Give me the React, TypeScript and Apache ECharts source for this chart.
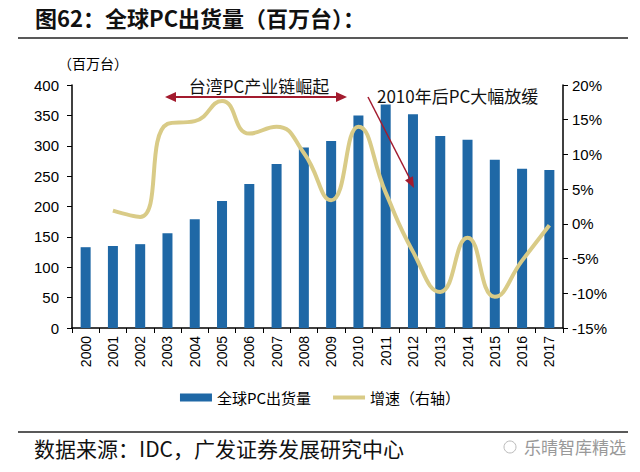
import React, { useEffect, useRef } from "react";
import * as echarts from "echarts";

const years = ["2000","2001","2002","2003","2004","2005","2006","2007","2008","2009","2010","2011","2012","2013","2014","2015","2016","2017"];
const shipments = [133, 135, 138, 156, 179, 209, 237, 270, 297, 308, 350, 368, 352, 316, 310, 277, 262, 260];
const growth: (number | null)[] = [null, 1.9, 1.0, 14.4, 14.8, 17.7, 13.0, 14.0, 10.2, 3.4, 14.0, 4.5, -4.0, -9.8, -2.0, -10.5, -5.3, -0.2];
const leftTicks = [0, 400, 50];
const rightTicks = [-15, 20, 5];

const CJK = '"Noto Sans CJK SC", "Noto Sans", sans-serif';
const NUM = '"Liberation Sans", Arial, sans-serif';
const RED = "#A31B2E";

export default function App() {
  const ref = useRef<HTMLDivElement>(null);
  useEffect(() => {
    if (!ref.current) return;
    const chart = echarts.init(ref.current, null, { renderer: "svg" });
    const arrowHead = (tx: number, ty: number, dx: number, dy: number, len = 11, half = 5) => {
      const l = Math.hypot(dx, dy);
      const ux = dx / l, uy = dy / l;
      const bx = tx - ux * len, by = ty - uy * len;
      return {
        type: "polygon",
        shape: { points: [[tx, ty], [bx - uy * half, by + ux * half], [bx + uy * half, by - ux * half]] },
        style: { fill: RED },
        z: 100,
      };
    };
    chart.setOption({
      animation: false,
      backgroundColor: "#fff",
      grid: { left: 72, right: 77, top: 85, bottom: 144 },
      xAxis: {
        type: "category",
        data: years,
        axisLine: { lineStyle: { color: "#000", width: 1.5 } },
        axisTick: { show: true, alignWithLabel: false, length: 5, lineStyle: { color: "#000" } },
        axisLabel: { rotate: 90, color: "#000", fontSize: 14, fontFamily: NUM, margin: 8 },
      },
      yAxis: [
        {
          type: "value",
          min: leftTicks[0], max: leftTicks[1], interval: leftTicks[2],
          axisLine: { show: true, lineStyle: { color: "#000", width: 1.5 } },
          axisTick: { show: true, length: 5, lineStyle: { color: "#000" } },
          axisLabel: { color: "#000", fontSize: 15, fontFamily: NUM, margin: 13 },
          splitLine: { show: false },
        },
        {
          type: "value",
          min: rightTicks[0], max: rightTicks[1], interval: rightTicks[2],
          position: "right",
          axisLine: { show: true, lineStyle: { color: "#000", width: 1.5 } },
          axisTick: { show: true, length: 5, lineStyle: { color: "#000" } },
          axisLabel: { color: "#000", fontSize: 15, fontFamily: NUM, margin: 9, formatter: "{value}%" },
          splitLine: { show: false },
        },
      ],
      legend: {
        bottom: 62,
        left: "center",
        itemGap: 22,
        itemWidth: 32,
        itemHeight: 8,
        textStyle: { color: "#000", fontSize: 15, fontFamily: CJK },
        data: [
          { name: "全球PC出货量", icon: "rect" },
          { name: "增速（右轴）", icon: "path://M0,0 L32,0 L32,4 L0,4 Z" },
        ],
      },
      series: [
        {
          name: "全球PC出货量",
          type: "bar",
          data: shipments,
          barWidth: 10,
          itemStyle: { color: "#1F68A6" },
        },
        {
          name: "增速（右轴）",
          type: "line",
          yAxisIndex: 1,
          data: growth,
          smooth: 0.5,
          symbol: "none",
          lineStyle: { color: "#D9CB87", width: 4 },
          itemStyle: { color: "#D9CB87" },
        },
      ],
      graphic: [
        { type: "text", left: 35, top: 6, style: { text: "图62：全球PC出货量（百万台）：", font: `bold 22px ${CJK}`, fill: "#111" } },
        { type: "line", shape: { x1: 18, y1: 38, x2: 628, y2: 38 }, style: { stroke: "#222", lineWidth: 1.5 } },
        { type: "text", left: 58, top: 56, style: { text: "（百万台）", font: `14px ${CJK}`, fill: "#000" } },
        { type: "text", x: 259, y: 85, style: { text: "台湾PC产业链崛起", font: `17px ${CJK}`, fill: "#111", align: "center", verticalAlign: "middle" } },
        { type: "line", shape: { x1: 172, y1: 97, x2: 340, y2: 97 }, style: { stroke: RED, lineWidth: 2 }, z: 100 },
        arrowHead(165, 97, -1, 0),
        arrowHead(347, 97, 1, 0),
        { type: "text", left: 377, top: 87, style: { text: "2010年后PC大幅放缓", font: `17px ${CJK}`, fill: "#111" } },
        { type: "line", shape: { x1: 368, y1: 97, x2: 410, y2: 179 }, style: { stroke: RED, lineWidth: 1.5 }, z: 100 },
        arrowHead(414, 188, 46, 90, 11, 4.5),
        { type: "line", shape: { x1: 18, y1: 432, x2: 628, y2: 432 }, style: { stroke: "#222", lineWidth: 1.5 } },
        { type: "text", left: 34, top: 437, style: { text: "数据来源：IDC，广发证券发展研究中心", font: `21px ${CJK}`, fill: "#111" } },
        { type: "circle", shape: { cx: 510, cy: 447, r: 6 }, style: { fill: "none", stroke: "#bbb", lineWidth: 1 } },
        { type: "text", left: 524, top: 438, style: { text: "乐晴智库精选", font: `17px ${CJK}`, fill: "#999" } },
      ],
    });
    return () => chart.dispose();
  }, []);
  return <div ref={ref} style={{ position: "fixed", left: 0, top: 0, width: 640, height: 472 }} />;
}
